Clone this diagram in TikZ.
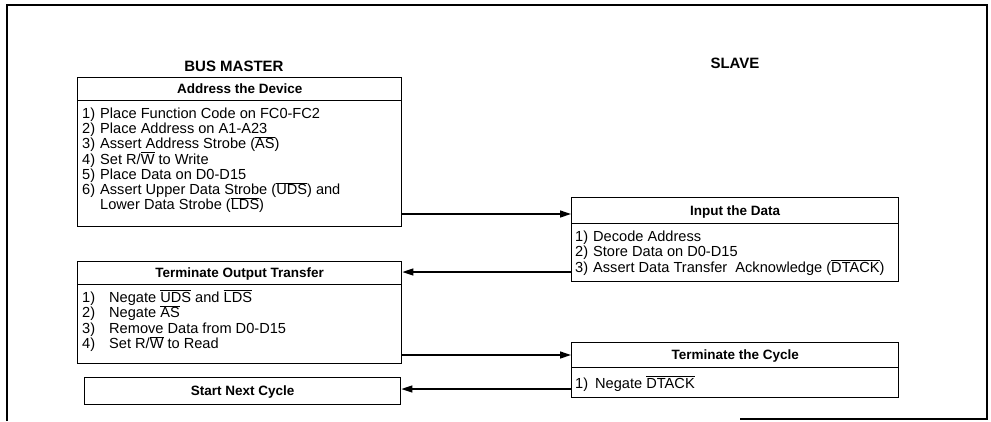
\documentclass[tikz,border=0pt]{standalone}
\usepackage{fontspec}
\setmainfont{Liberation Sans}
\usetikzlibrary{arrows.meta}
\newcommand\ovl[1]{$\overline{\mbox{#1}}$}
\newcommand\num[2][18pt]{\makebox[#1][l]{#2}}
\begin{document}
\begin{tikzpicture}[x=1pt,y=-1pt,
  hdr/.style={draw, line width=1.4pt, anchor=north west, inner sep=0pt, font=\fontsize{13.5}{15}\selectfont\bfseries, text height=9.5pt, text depth=0pt},
  body/.style={draw, line width=1.4pt, anchor=north west, inner sep=0pt},
  item/.style={anchor=base west, inner sep=0pt, font=\fontsize{14.6}{15}\selectfont},
  arr/.style={line width=1.3pt, -{Triangle[length=11pt,width=7pt]}},
  lbl/.style={font=\fontsize{15}{17}\selectfont\bfseries, inner sep=0pt, text height=10.5pt, text depth=0pt},
  frame/.style={line width=1.1pt}
]
\useasboundingbox (0,0) rectangle (991,421);
\draw[frame] (7,421) -- (7,5) -- (987,5) -- (987,419) -- (740,419);

\node[lbl] (bm) at (234,66) {BUS MASTER};
\node[lbl] (sl) at (735,63) {SLAVE};

% Address the Device
\node[hdr, minimum width=324pt, minimum height=23pt] (addrh) at (77,77) {Address the Device};
\node[body, minimum width=324pt, minimum height=126pt] (addrb) at (77,100) {};
\node[item] (a1) at (82,118.5) {\num{1)}Place Function Code on FC0-FC2};
\node[item] (a2) at (82,133.7) {\num{2)}Place Address on A1-A23};
\node[item] (a3) at (82,148.9) {\num{3)}Assert Address Strobe (\ovl{AS})};
\node[item] (a4) at (82,164.1) {\num{4)}Set R/\ovl{W} to Write};
\node[item] (a5) at (82,179.3) {\num{5)}Place Data on D0-D15};
\node[item] (a6) at (82,194.5) {\num{6)}Assert Upper Data Strobe (\ovl{UDS}) and};
\node[item] (a7) at (82,209.7) {\num{}Lower Data Strobe (\ovl{LDS})};

% Input the Data
\node[hdr, minimum width=327pt, minimum height=26pt] (inh) at (571,197) {Input the Data};
\node[body, minimum width=327pt, minimum height=58pt] (inb) at (571,223) {};
\node[item] (i1) at (575,241) {\num{1)}Decode Address};
\node[item] (i2) at (575,256.5) {\num{2)}Store Data on D0-D15};
\node[item] (i3) at (575,272) {\num{3)}Assert Data Transfer\ \ Acknowledge (\ovl{DTACK})};

% Terminate Output Transfer
\node[hdr, minimum width=324pt, minimum height=23pt] (outh) at (77,261) {Terminate Output Transfer};
\node[body, minimum width=324pt, minimum height=79pt] (outb) at (77,284) {};
\node[item] (o1) at (82,302) {\num[27pt]{1)}Negate \ovl{UDS} and \ovl{LDS}};
\node[item] (o2) at (82,317.5) {\num[27pt]{2)}Negate \ovl{AS}};
\node[item] (o3) at (82,333) {\num[27pt]{3)}Remove Data from D0-D15};
\node[item] (o4) at (82,348.5) {\num[27pt]{4)}Set R/\ovl{W} to Read};

% Terminate the Cycle
\node[hdr, minimum width=327pt, minimum height=25pt] (cych) at (571,342) {Terminate the Cycle};
\node[body, minimum width=327pt, minimum height=30pt] (cycb) at (571,367) {};
\node[item] (c1) at (575,388) {\num[20pt]{1)}Negate \ovl{DTACK}};

% Start Next Cycle
\node[hdr, minimum width=316pt, minimum height=27pt] (next) at (84,377) {Start Next Cycle};

% connectors
\draw[arr] (addrb.east |- 0,214) -- (inh.west |- 0,214);
\draw[arr] (inb.west |- 0,272) -- (outh.east |- 0,272);
\draw[arr] (outb.east |- 0,355) -- (cych.west |- 0,355);
\draw[arr] (cycb.west |- 0,389) -- (next.east |- 0,389);
\end{tikzpicture}
\end{document}
